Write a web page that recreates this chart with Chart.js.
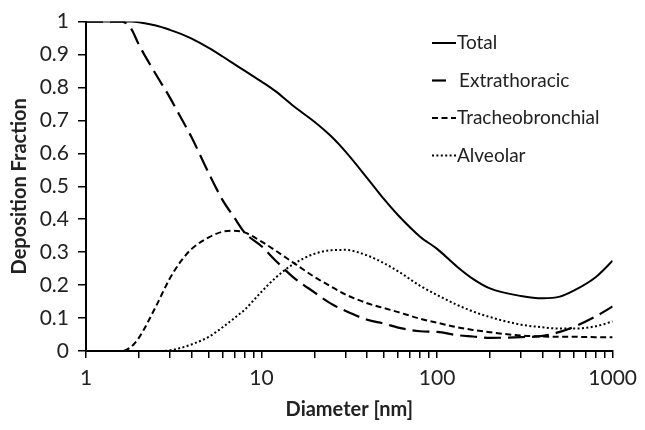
<!DOCTYPE html>
<html>
<head>
<meta charset="utf-8">
<script src="https://cdn.jsdelivr.net/npm/chart.js@4.4.1/dist/chart.umd.min.js"></script>
<style>
  body { margin: 0; background: #fff; }
  #wrap { width: 645px; height: 430px; }
</style>
</head>
<body>
<div id="wrap"><canvas id="deposition" width="645" height="430"></canvas></div>
<script>
// particle diameter [nm], log axis
const diameters = [1, 1.6, 1.8, 2, 2.5, 3, 3.5, 4, 5, 6, 7, 8, 10, 12, 15, 20, 25, 30, 40, 50, 60, 80, 100, 130, 160, 200, 300, 400, 500, 600, 800, 1000];

const total = [1, 1, 1, 0.998, 0.988, 0.975, 0.962, 0.948, 0.92, 0.894, 0.871, 0.851, 0.818, 0.789, 0.746, 0.696, 0.651, 0.606, 0.525, 0.46, 0.412, 0.347, 0.31, 0.256, 0.219, 0.19, 0.167, 0.16, 0.165, 0.183, 0.224, 0.274];
const extrathoracic = [1, 1, 0.98, 0.93, 0.84, 0.77, 0.705, 0.648, 0.54, 0.458, 0.405, 0.36, 0.318, 0.275, 0.226, 0.178, 0.143, 0.122, 0.095, 0.083, 0.071, 0.06, 0.058, 0.048, 0.044, 0.04, 0.042, 0.046, 0.058, 0.073, 0.105, 0.135];
const tracheobronchial = [0, 0, 0.012, 0.04, 0.135, 0.22, 0.275, 0.31, 0.345, 0.362, 0.365, 0.36, 0.332, 0.305, 0.27, 0.225, 0.195, 0.172, 0.145, 0.13, 0.118, 0.098, 0.086, 0.072, 0.064, 0.057, 0.047, 0.044, 0.043, 0.043, 0.042, 0.042];
const alveolar = [0, 0, 0, 0, 0, 0.002, 0.01, 0.02, 0.043, 0.072, 0.1, 0.125, 0.18, 0.222, 0.262, 0.295, 0.306, 0.307, 0.29, 0.266, 0.242, 0.198, 0.17, 0.14, 0.12, 0.103, 0.08, 0.072, 0.068, 0.068, 0.075, 0.09];

const seriesNames = ['Total', 'Extrathoracic', 'Tracheobronchial', 'Alveolar'];
const xTickLabels = [1, 10, 100, 1000];

const ink = '#000';
const dashes = [[], [17, 7], [6, 3.5], [2, 2.4]];
const widths = [2, 2.2, 2, 2];

function points(vals) {
  return diameters.map((d, i) => ({ x: d, y: vals[i] }));
}

// legend drawn inside the plot, top right, like the original
const insideLegend = {
  id: 'insideLegend',
  afterDatasetsDraw(chart) {
    const ctx = chart.ctx;
    const x0 = 432, len = 24, y0 = 43, step = 37.5;
    ctx.save();
    chart.data.datasets.forEach((ds, i) => {
      const y = y0 + i * step;
      ctx.strokeStyle = ink;
      ctx.lineWidth = ds.borderWidth;
      ctx.setLineDash(ds.borderDash);
      ctx.beginPath();
      ctx.moveTo(x0, y);
      ctx.lineTo(i === 1 ? x0 + 14 : x0 + len, y);
      ctx.stroke();
      ctx.setLineDash([]);
      ctx.fillStyle = '#222';
      ctx.font = '19px Lato';
      ctx.textBaseline = 'middle';
      ctx.fillText(ds.label, i === 1 ? x0 + 27 : x0 + len + 1, y);
    });
    ctx.restore();
  }
};

const tickFont = { family: 'Lato', size: 21 };
const titleFont = { family: 'Lato', size: 20, weight: 'bold' };

new Chart(document.getElementById('deposition'), {
  type: 'line',
  data: {
    datasets: [total, extrathoracic, tracheobronchial, alveolar].map((vals, i) => ({
      label: seriesNames[i],
      data: points(vals),
      borderColor: ink,
      borderWidth: widths[i],
      borderDash: dashes[i],
      pointRadius: 0,
      fill: false,
      cubicInterpolationMode: 'monotone'
    }))
  },
  options: {
    responsive: false,
    animation: false,
    layout: { padding: { left: 2, right: 24, top: 19, bottom: 4 } },
    plugins: {
      legend: { display: false },
      tooltip: { enabled: false }
    },
    scales: {
      x: {
        type: 'logarithmic',
        min: 1,
        max: 1000,
        afterBuildTicks(scale) {
          const t = [];
          [1, 10, 100].forEach(dec => {
            for (let k = 1; k < 10; k++) t.push({ value: k * dec });
          });
          t.push({ value: 1000 });
          scale.ticks = t;
        },
        afterFit(scale) { scale.height = 75; },
        ticks: {
          autoSkip: false,
          maxRotation: 0,
          color: '#222',
          font: tickFont,
          padding: 8,
          callback: v => xTickLabels.includes(v) ? String(v) : ''
        },
        grid: { drawOnChartArea: false, color: ink, lineWidth: 1.5, tickLength: 7 },
        border: { color: ink, width: 2 },
        title: { display: true, text: 'Diameter [nm]', color: '#222', font: titleFont, padding: { top: 4, bottom: 4 } }
      },
      y: {
        min: 0,
        max: 1,
        afterFit(scale) { scale.width = 84; },
        ticks: {
          stepSize: 0.1,
          color: '#222',
          font: tickFont,
          padding: 9,
          callback: v => String(Math.round(v * 10) / 10)
        },
        grid: { drawOnChartArea: false, color: ink, lineWidth: 1.5, tickLength: 8 },
        border: { color: ink, width: 2 },
        title: { display: true, text: 'Deposition Fraction', color: '#222', font: titleFont, padding: { top: 6, bottom: 4 } }
      }
    }
  },
  plugins: [insideLegend]
});
</script>
</body>
</html>
